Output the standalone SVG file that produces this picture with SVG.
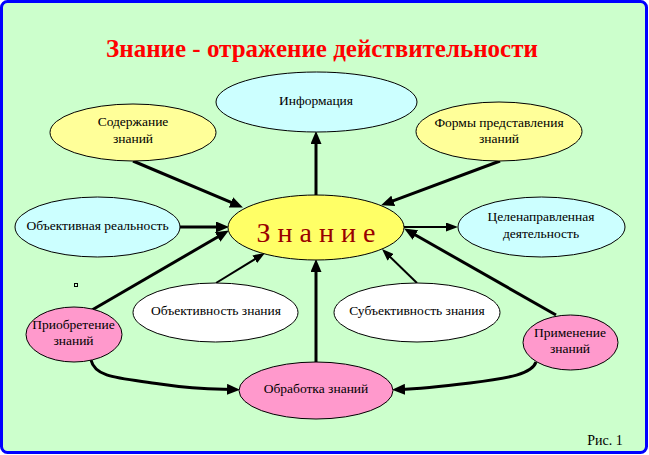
<svg xmlns="http://www.w3.org/2000/svg" width="649" height="455" viewBox="0 0 649 455">
<defs>
<style>
.n ellipse{stroke:#000;stroke-width:1}
.t{font-family:"Liberation Serif","Times New Roman",serif;font-size:13.5px;fill:#000;text-anchor:middle}
.c{fill:none;stroke:#000;stroke-width:3;marker-end:url(#ah)}
.thin{stroke-width:2;marker-end:url(#ahs)}
.cyan{fill:#CCFFFF}.yel{fill:#FFFF99}.pink{fill:#FF99CC}.wh{fill:#FFFFFF}
</style>
<marker id="ah" markerUnits="userSpaceOnUse" markerWidth="13" markerHeight="11" refX="6" refY="5.5" orient="auto" viewBox="0 0 13 11">
<path d="M0,0 L13,5.5 L0,11 z" fill="#000"/>
</marker>
<marker id="ahs" markerUnits="userSpaceOnUse" markerWidth="12" markerHeight="9" refX="6" refY="4.5" orient="auto" viewBox="0 0 12 9">
<path d="M0,0 L12,4.5 L0,9 z" fill="#000"/>
</marker>
</defs>
<rect x="1.5" y="1.5" width="645" height="451" rx="6" fill="#CCFFCC" stroke="#0000FF" stroke-width="3"/>
<text x="322" y="57" font-family="'Liberation Serif','Times New Roman',serif" font-size="25" font-weight="bold" fill="#FF0000" text-anchor="middle">Знание - отражение действительности</text>

<g id="connectors">
<path class="c" d="M133,161 L236.5,204.7"/>
<path class="c" d="M500,161 L387.6,202.9"/>
<path class="c" d="M316,195 L316,138"/>
<path class="c" d="M180,227 L222,227"/>
<path class="c thin" d="M404,227 L452,227"/>
<path class="c" d="M92,310 L222.8,234"/>
<path class="c thin" d="M216,283 L259.9,256.1"/>
<path class="c" d="M316,362 L316,266"/>
<path class="c thin" d="M417,283 L386.3,253.2"/>
<path class="c" d="M556,315 L410.2,232"/>
<path class="c" d="M91,360 C95,378 120,378 160,384 S215,389 233,389.5"/>
<path class="c" d="M536,362 C532,374 510,378 470,383 S415,389 399,389.5"/>
</g>

<g id="informaciya" class="n"><ellipse class="cyan" cx="316.5" cy="102" rx="100.5" ry="30"/><text class="t" x="316" y="105">Информация</text></g>
<g id="soderzhanie" class="n"><ellipse class="yel" cx="133" cy="132.5" rx="83" ry="28.5"/><text class="t" x="133" y="126">Содержание</text><text class="t" x="133" y="143">знаний</text></g>
<g id="formy" class="n"><ellipse class="yel" cx="499" cy="131.5" rx="83" ry="29.5"/><text class="t" x="499" y="127">Формы представления</text><text class="t" x="499" y="143">знаний</text></g>
<g id="obj-realnost" class="n"><ellipse class="cyan" cx="97.5" cy="227" rx="82.5" ry="30"/><text class="t" x="97.5" y="230">Объективная реальность</text></g>
<g id="znanie" class="n"><ellipse fill="#FFFF66" cx="316" cy="227.5" rx="88" ry="32.5"/><text x="316" y="242" font-family="'Liberation Serif','Times New Roman',serif" font-size="28" fill="#990000" text-anchor="middle">З н а н и е</text></g>
<g id="celenapr" class="n"><ellipse class="cyan" cx="541.5" cy="227" rx="83.5" ry="30"/><text class="t" x="541" y="221">Целенаправленная</text><text class="t" x="541" y="238">деятельность</text></g>
<g id="obj-znaniya" class="n"><ellipse class="wh" cx="215.5" cy="312.5" rx="82.5" ry="29.5"/><text class="t" x="216" y="315">Объективность знания</text></g>
<g id="subj-znaniya" class="n"><ellipse class="wh" cx="417" cy="312.5" rx="83" ry="29.5"/><text class="t" x="417" y="315">Субъективность знания</text></g>
<g id="priobretenie" class="n"><ellipse class="pink" cx="74" cy="334.5" rx="48" ry="27.5"/><text class="t" x="73.5" y="329">Приобретение</text><text class="t" x="73.5" y="345">знаний</text></g>
<g id="primenenie" class="n"><ellipse class="pink" cx="570.5" cy="342.5" rx="47.5" ry="27.5"/><text class="t" x="570" y="337">Применение</text><text class="t" x="570" y="353">знаний</text></g>
<g id="obrabotka" class="n"><ellipse class="pink" cx="316" cy="390.5" rx="77" ry="28.5"/><text class="t" x="316" y="393">Обработка знаний</text></g>

<rect x="74.5" y="283.5" width="3" height="3" fill="none" stroke="#000" stroke-width="1"/>
<text x="605" y="445" font-family="'Liberation Serif','Times New Roman',serif" font-size="14" fill="#000" text-anchor="middle">Рис. 1</text>
</svg>
